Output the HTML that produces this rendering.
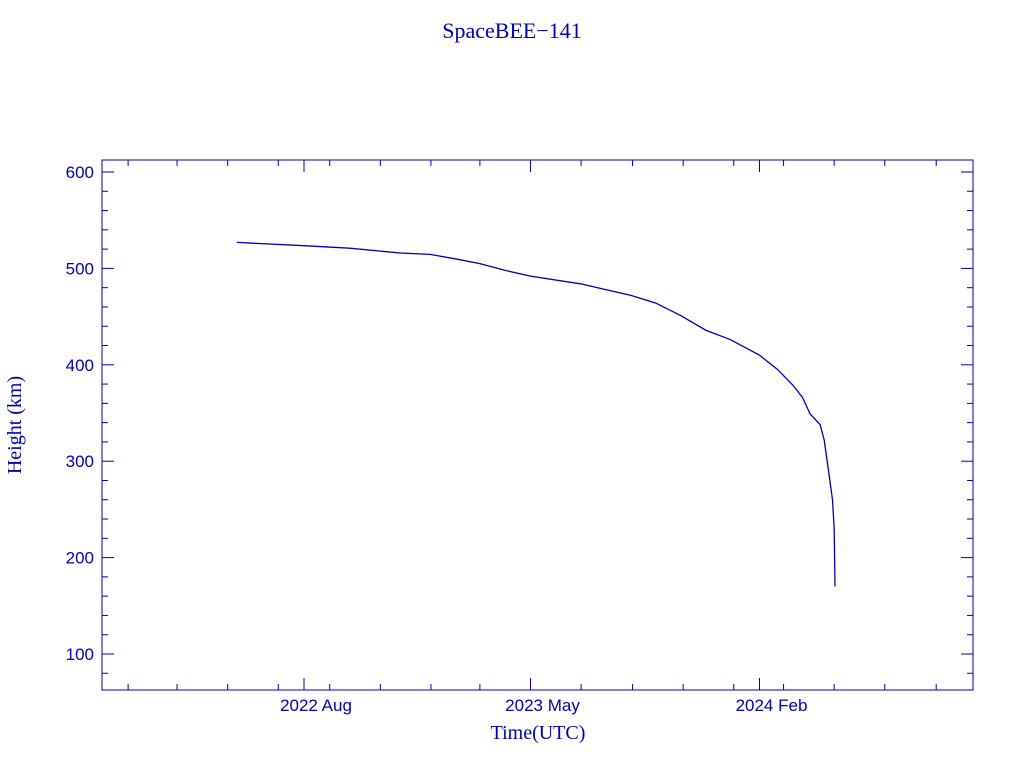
<!DOCTYPE html>
<html><head><meta charset="utf-8"><style>
html,body{margin:0;padding:0;background:#fff;}
svg{display:block;}
</style></head><body>
<svg id="chart" width="1024" height="768" xmlns="http://www.w3.org/2000/svg">
<text x="512" y="38" text-anchor="middle" font-family="Liberation Serif, serif" font-size="22" fill="#0000b0">SpaceBEE−141</text>
<text x="538" y="739" text-anchor="middle" font-family="Liberation Serif, serif" font-size="20" fill="#0000b0">Time(UTC)</text>
<text transform="translate(21,425) rotate(-90)" text-anchor="middle" font-family="Liberation Serif, serif" font-size="20" fill="#0000b0">Height (km)</text>
<g id="axes"></g>
<g id="series"></g>
</svg>
<script>
const dates=["2022-05-12","2022-08-01","2022-09-25","2022-11-25","2022-12-31","2023-01-30","2023-03-01","2023-03-31","2023-05-01","2023-06-30","2023-08-30","2023-09-29","2023-10-29","2023-11-28","2023-12-28","2024-02-01","2024-02-23","2024-03-12","2024-03-24","2024-04-02","2024-04-14","2024-04-19","2024-04-24","2024-04-29","2024-05-01","2024-05-02"];
const heights=[527,523.5,521,516,514.5,510,505,498,492,484,472,464,451,436,426,410,395,379,366,349,338,322,291,260,229,170];
const yTicks=[100,200,300,400,500,600];
const xTickLabels=["2022 Aug","2023 May","2024 Feb"];
const xTickDates=["2022-08-01","2023-05-01","2024-02-01"];

const L=102,R=973,T=160,B=690;
const C="#0000b0";
const ms=86400000;
const x0=Date.parse("2022-08-01"),pxPerDay=226.5/273;
function X(d){return 304+(Date.parse(d)-x0)/ms*pxPerDay;}
function Y(v){return 654-(v-100)*0.964;}
const NS="http://www.w3.org/2000/svg";
const axes=document.getElementById("axes");
function mk(tag,attrs,parent){const e=document.createElementNS(NS,tag);for(const k in attrs)e.setAttribute(k,attrs[k]);parent.appendChild(e);return e;}
let fr=mk("rect",{x:L,y:T,width:R-L,height:B-T,fill:"none",stroke:C,"stroke-width":1},axes);


// y minor/major ticks
for(let v=80;v<=600;v+=20){
  const y=Y(v);if(y<T||y>B)continue;
  const len=(v%100===0)?12:6;
  let t1=mk("line",{x1:L,x2:L+len,y1:y,y2:y,stroke:C},axes);
  
  
  let t2=mk("line",{x1:R,x2:R-len,y1:y,y2:y,stroke:C},axes);
  
  
}
yTicks.forEach(v=>{
  const t=mk("text",{x:L-8,y:Y(v)+6,"text-anchor":"end","font-family":"Liberation Sans, sans-serif","font-size":17,fill:C},axes);
  t.textContent=v;
  
  
});
// x minor ticks: every 2 months (odd months)
for(let yr=2021;yr<=2024;yr++){for(let m=1;m<=12;m+=2){
  const d=yr+"-"+String(m).padStart(2,"0")+"-01";const x=X(d);
  if(x<=L+1||x>=R-1)continue;
  let a=mk("line",{x1:x,x2:x,y1:B,y2:B-6,stroke:C},axes);
  
  
  let b=mk("line",{x1:x,x2:x,y1:T,y2:T+6,stroke:C},axes);
  
  
}}
xTickDates.forEach((d,i)=>{
  const x=X(d);
  let a=mk("line",{x1:x,x2:x,y1:B,y2:B-12,stroke:C},axes);
  
  
  let b=mk("line",{x1:x,x2:x,y1:T,y2:T+12,stroke:C},axes);
  
  
  const t=mk("text",{x:x+12,y:B+21,"text-anchor":"middle","font-family":"Liberation Sans, sans-serif","font-size":17,fill:C},axes);
  t.textContent=xTickLabels[i];
  
  
});
const pts=dates.map((d,i)=>X(d).toFixed(1)+","+Y(heights[i]).toFixed(1)).join(" ");
const line=mk("polyline",{points:pts,fill:"none",stroke:C,"stroke-width":1.3},document.getElementById("series"));


</script>
</body></html>
